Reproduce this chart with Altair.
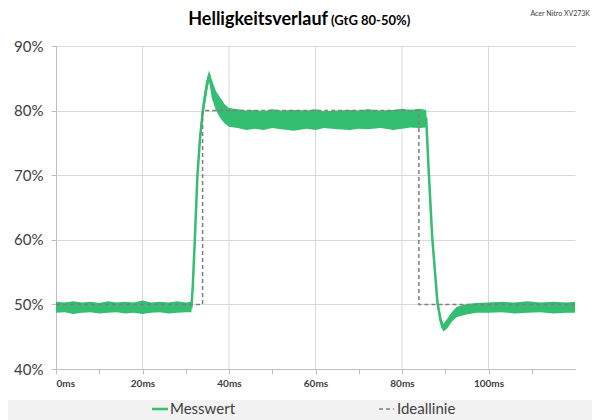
import altair as alt
import pandas as pd

# ---- data ----
t = [0, 2, 4, 6, 8, 10, 12, 14, 16, 18, 20, 22, 24, 26, 28, 30, 31.3,
     31.6, 32.1, 32.7, 33.3, 34.0, 34.7, 35.4, 36.0, 37.0, 38.0, 39.0, 40.0,
     42, 44, 46, 48, 50, 52, 55, 58, 60, 62, 65, 68, 70, 72, 75, 78, 80, 82, 84,
     85.6, 86.2, 87.0, 88.2, 89.0, 89.6, 90.5, 91.5, 92.6, 94, 95.5, 97.3,
     100, 103, 106, 109, 112, 115, 118, 120]
hi = [50.4, 50.3, 50.5, 50.3, 50.4, 50.2, 50.5, 50.3, 50.4, 50.3, 50.6, 50.3, 50.4, 50.3, 50.5, 50.3, 50.4,
      54.0, 61.0, 71.0, 77.0, 81.5, 84.5, 86.2, 84.8, 83.0, 82.0, 81.0, 80.4,
      80.2, 80.0, 80.1, 79.9, 80.2, 80.0, 80.1, 80.0, 80.2, 79.9, 80.0, 80.1, 80.0, 80.2, 80.0, 80.1, 80.3, 80.1, 80.3,
      80.1, 71.0, 61.0, 51.0, 48.0, 47.0, 47.8, 48.8, 49.6, 49.9, 50.1, 50.2,
      50.3, 50.4, 50.3, 50.5, 50.3, 50.4, 50.3, 50.4]
lo = [48.7, 48.8, 48.5, 48.7, 48.8, 48.6, 48.7, 48.8, 48.6, 48.7, 48.5, 48.7, 48.8, 48.6, 48.7, 48.8, 48.8,
      51.0, 59.0, 69.0, 74.5, 79.0, 82.0, 84.8, 82.0, 80.0, 78.8, 78.0, 77.5,
      77.3, 77.0, 77.2, 77.0, 77.3, 77.1, 76.9, 77.2, 77.0, 77.3, 77.1, 77.0, 77.2, 77.1, 77.3, 77.0, 77.2, 77.4, 77.3,
      77.4, 69.5, 59.5, 49.5, 46.5, 45.8, 46.3, 47.3, 48.0, 48.3, 48.5, 48.7,
      48.7, 48.8, 48.6, 48.7, 48.8, 48.6, 48.7, 48.7]

ideal_t = [0, 33.9, 33.9, 83.9, 83.9, 120]
ideal_v = [50, 50, 80, 80, 50, 50]

grid_x = [20, 40, 60, 80, 100]
y_ticks = [40, 50, 60, 70, 80, 90]
x_ticks = [0, 10, 20, 30, 40, 50, 60, 70, 80, 90, 100, 110]

series_names = ["Messwert", "Ideallinie"]
title_main = "Helligkeitsverlauf"
title_sub = "(GtG 80-50%)"
corner_note = "Acer Nitro XV273K"

GREEN = "#33BE71"
GRAY = "#7F7F7F"
FONT = "Lato"

band_df = pd.DataFrame({"t": t, "lo": lo, "hi": hi})
ideal_df = pd.DataFrame({"t": ideal_t, "v": ideal_v, "i": list(range(len(ideal_t)))})
grid_df = pd.DataFrame({"g": grid_x})
one = pd.DataFrame({"a": [0]})

xscale = alt.Scale(domain=[0, 120], nice=False, zero=False)
yscale = alt.Scale(domain=[40, 90], nice=False, zero=False)

x_axis = alt.Axis(values=x_ticks, grid=False, tickSize=5, tickColor="#BFBFBF",
                  domainColor="#BFBFBF", labelExpr="datum.value % 20 == 0 ? datum.value + 'ms' : ''",
                  labelFontSize=10, labelFontWeight="bold", labelColor="#404040", labelFont=FONT,
                  labelPadding=4, title=None)
y_axis = alt.Axis(values=y_ticks, grid=True, gridColor="#D9D9D9", tickSize=5, tickColor="#BFBFBF",
                  domainColor="#BFBFBF", labelExpr="datum.value + '%'", labelFontSize=15,
                  labelColor="#404040", labelFont=FONT, labelPadding=8, title=None)

X = lambda f: alt.X(f, scale=xscale, axis=x_axis)
Y = lambda f: alt.Y(f, scale=yscale, axis=y_axis)

grid = alt.Chart(grid_df).mark_rule(color="#D9D9D9", strokeWidth=1).encode(
    x=X("g:Q"), y=alt.value(0), y2=alt.value(323))

area = alt.Chart(band_df).mark_area(color=GREEN, opacity=1).encode(
    x=X("t:Q"), y=Y("lo:Q"), y2="hi:Q")

line = alt.Chart(band_df).transform_calculate(mid="(datum.lo + datum.hi) / 2").mark_line(
    color=GREEN, strokeWidth=2.5).encode(x=X("t:Q"), y=Y("mid:Q"))

ideal = alt.Chart(ideal_df).mark_line(color=GRAY, strokeWidth=1.5, strokeDash=[4, 3]).encode(
    x=X("t:Q"), y=Y("v:Q"), order="i:Q")

legend_bg = alt.Chart(one).mark_rect(color="#F2F2F2").encode(
    x=alt.value(-48), x2=alt.value(540), y=alt.value(354), y2=alt.value(380))
leg_line1 = alt.Chart(one).mark_rule(color=GREEN, strokeWidth=2.5).encode(
    x=alt.value(96), x2=alt.value(112), y=alt.value(363))
leg_text1 = alt.Chart(one).mark_text(align="left", baseline="middle", fontSize=15, font=FONT,
                                     color="#404040").encode(
    x=alt.value(114), y=alt.value(363), text=alt.value(series_names[0]))
leg_line2 = alt.Chart(one).mark_rule(color=GRAY, strokeWidth=1.5, strokeDash=[4, 3]).encode(
    x=alt.value(323), x2=alt.value(338), y=alt.value(363))
leg_text2 = alt.Chart(one).mark_text(align="left", baseline="middle", fontSize=15, font=FONT,
                                     color="#404040").encode(
    x=alt.value(341), y=alt.value(363), text=alt.value(series_names[1]))

t_main = alt.Chart(one).mark_text(align="right", baseline="alphabetic", fontSize=18, fontWeight="bold",
                                  font=FONT, color="#000000").encode(
    x=alt.value(272), y=alt.value(-21), text=alt.value(title_main))
t_sub = alt.Chart(one).mark_text(align="left", baseline="alphabetic", fontSize=13, fontWeight="bold",
                                 font=FONT, color="#000000").encode(
    x=alt.value(275), y=alt.value(-21), text=alt.value(title_sub))
t_note = alt.Chart(one).mark_text(align="right", baseline="alphabetic", fontSize=7,
                                  font=FONT, color="#404040").encode(
    x=alt.value(534), y=alt.value(-30), text=alt.value(corner_note))

chart = alt.layer(grid, area, line, ideal, legend_bg, leg_line1, leg_text1, leg_line2, leg_text2,
                  t_main, t_sub, t_note).properties(
    width=519, height=323, autosize="none",
    padding={"left": 48, "top": 38, "right": 17, "bottom": 51},
    background="white").configure_view(stroke=None)

chart.save("out.html", embed_options={"renderer": "svg", "actions": False})
